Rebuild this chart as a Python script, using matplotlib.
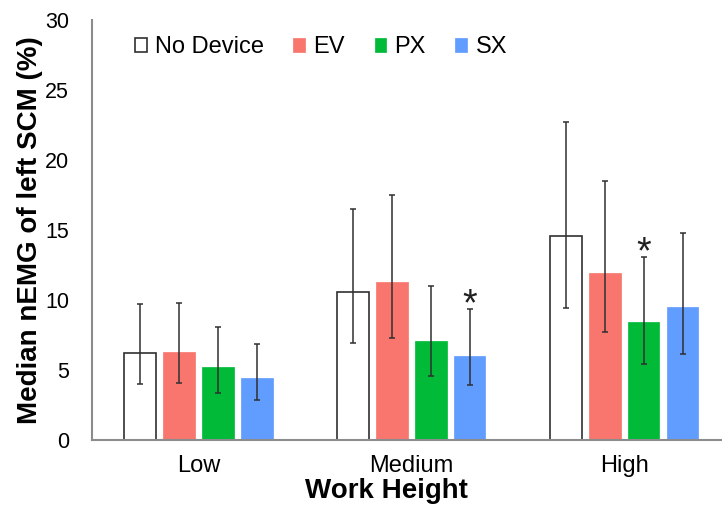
import numpy as np
import matplotlib.pyplot as plt

plt.rcParams['font.family'] = ['Liberation Sans', 'DejaVu Sans']

# Median nEMG of the left SCM per work height and device condition
heights = ['Low', 'Medium', 'High']
conditions = ['No Device', 'EV', 'PX', 'SX']

no_device = [6.2, 10.6, 14.6]
ev = [6.3, 11.3, 11.9]
px = [5.2, 7.1, 8.4]
sx = [4.4, 6.0, 9.5]

# asymmetric error bars: lower / upper limits
no_device_lo = [4.0, 6.9, 9.4]
no_device_hi = [9.7, 16.5, 22.7]
ev_lo = [4.05, 7.3, 7.7]
ev_hi = [9.8, 17.5, 18.5]
px_lo = [3.35, 4.55, 5.45]
px_hi = [8.1, 11.0, 13.1]
sx_lo = [2.85, 3.9, 6.15]
sx_hi = [6.85, 9.35, 14.8]

# asterisks: (height index, condition index)
significant = [(1, 3), (2, 2)]

values = [no_device, ev, px, sx]
lows = [no_device_lo, ev_lo, px_lo, sx_lo]
highs = [no_device_hi, ev_hi, px_hi, sx_hi]
colors = ['white', '#F8766D', '#00BA38', '#619CFF']
edges = ['#303030', '#F8766D', '#00BA38', '#619CFF']

fig = plt.figure(figsize=(7.22, 5.21), dpi=100)
ax = fig.add_axes([92 / 722, 1 - 440 / 521, 630 / 722, 420 / 521])

x = np.arange(len(heights))
width = 0.146
step = 0.183

for i, (vals, lo, hi) in enumerate(zip(values, lows, highs)):
    pos = x + (i - 1.5) * step
    vals = np.array(vals)
    yerr = [vals - np.array(lo), np.array(hi) - vals]
    ax.bar(pos, vals, width, color=colors[i], edgecolor=edges[i],
           linewidth=1.2 if i == 0 else 0.5, label=conditions[i], zorder=2)
    ax.errorbar(pos, vals, yerr=yerr, fmt='none', ecolor='#303030',
                elinewidth=1.1, capsize=2.5, capthick=1.1, zorder=3)

for h, c in significant:
    ax.text(x[h] + (c - 1.5) * step, highs[c][h] - 0.45, '*',
            ha='center', va='baseline', fontsize=27, color='#202020')

ax.set_xlim(-0.5, 2.458)
ax.set_ylim(0, 30)
ax.set_yticks(range(0, 31, 5))
ax.set_xticks(x)
ax.set_xticklabels(heights)
ax.tick_params(axis='both', length=0, colors='#000000')
ax.tick_params(axis='y', pad=16.5, labelsize=15.5)
ax.tick_params(axis='x', pad=11, labelsize=17)

for s in ['top', 'right']:
    ax.spines[s].set_visible(False)
for s in ['left', 'bottom']:
    ax.spines[s].set_color('#8c8c8c')
    ax.spines[s].set_linewidth(1.5)

fig.text(30 / 722, 1 - 230 / 521, 'Median nEMG of left SCM (%)', rotation=90,
         ha='center', va='center', fontsize=20, fontweight='bold')
fig.text(386 / 722, 1 - 491 / 521, 'Work Height', ha='center', va='center',
         fontsize=20, fontweight='bold')

ax.legend(loc='center left', bbox_to_anchor=(0.068, 0.935), ncol=4, frameon=False,
          fontsize=17, handlelength=0.5, handleheight=0.5, handletextpad=0.35,
          columnspacing=1.25, borderaxespad=0, borderpad=0)

fig.savefig('out.png', dpi=100)
